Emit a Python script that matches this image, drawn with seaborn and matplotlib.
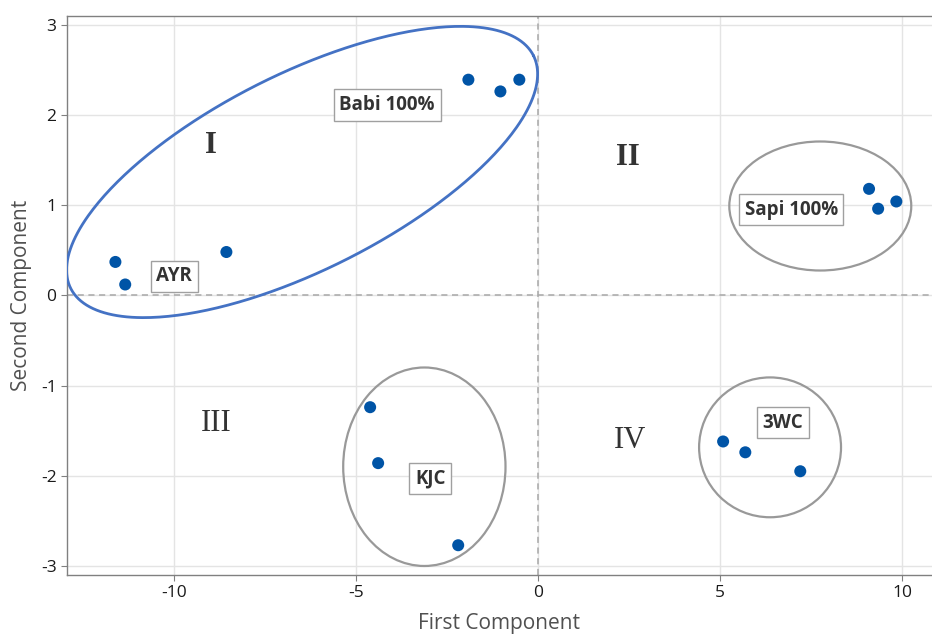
import numpy as np
import pandas as pd
import matplotlib
matplotlib.use("Agg")
import matplotlib.pyplot as plt
from matplotlib.patches import Ellipse
import seaborn as sns

# ---- data ----
groups = ["AYR"] * 3 + ["Babi 100%"] * 3 + ["Sapi 100%"] * 3 + ["KJC"] * 3 + ["3WC"] * 3
first_comp = [-11.62, -11.35, -8.57,
              -1.92, -1.04, -0.52,
              9.09, 9.34, 9.84,
              -4.62, -4.40, -2.20,
              5.08, 5.69, 7.20]
second_comp = [0.37, 0.12, 0.48,
               2.39, 2.26, 2.39,
               1.18, 0.96, 1.04,
               -1.24, -1.86, -2.77,
               -1.62, -1.74, -1.95]

label_text = ["AYR", "Babi 100%", "Sapi 100%", "KJC", "3WC"]
label_x = [-10.0, -4.15, 6.95, -2.97, 6.73]
label_y = [0.21, 2.11, 0.95, -2.03, -1.41]

quad_text = ["I", "II", "III", "IV"]
quad_x = [-9.0, 2.45, -8.85, 2.53]
quad_y = [1.66, 1.53, -1.42, -1.61]
quad_weight = ["bold", "bold", "normal", "normal"]

# gray ellipses: center x, center y, width, height (data units)
ell_cx = [7.75, -3.13, 6.37]
ell_cy = [0.99, -1.90, -1.685]
ell_w = [5.0, 4.46, 3.9]
ell_h = [1.43, 2.20, 1.55]

# blue rotated ellipse (centre in data units, axes in display pixels, angle in degrees)
blue_c = (-6.49, 1.367)
blue_a_px, blue_b_px, blue_ang = 259, 98, 26.7

xticks = [-10, -5, 0, 5, 10]
yticks = [-3, -2, -1, 0, 1, 2, 3]

df = pd.DataFrame({"First Component": first_comp,
                   "Second Component": second_comp,
                   "group": groups})

sns.set_style("white")
plt.rcParams["font.family"] = ["Open Sans", "DejaVu Sans"]
plt.rcParams["axes.unicode_minus"] = False

fig = plt.figure(figsize=(9.32, 6.35), dpi=100)
ax = fig.add_axes([67 / 932, 60 / 635, 1 - 67 / 932, (575 - 16) / 635])

ax.set_xlim(-12.95, 10.82)
ax.set_ylim(-3.10, 3.096)
ax.set_xticks(xticks)
ax.set_yticks(yticks)
ax.grid(True, color="#e4e4e4", lw=1.0, zorder=0)
ax.set_axisbelow(True)

ax.axhline(0, color="#a8a8a8", lw=1.1, ls=(0, (4, 3)), zorder=1)
ax.axvline(0, color="#a8a8a8", lw=1.1, ls=(0, (4, 3)), zorder=1)

sns.scatterplot(data=df, x="First Component", y="Second Component",
                color="#0054a6", s=75, edgecolor="none", ax=ax, zorder=5,
                legend=False)

for cx, cy, w, h in zip(ell_cx, ell_cy, ell_w, ell_h):
    ax.add_patch(Ellipse((cx, cy), w, h, fill=False, edgecolor="#999999",
                         lw=1.6, zorder=3))

# blue ellipse defined in pixel space, converted to data units
sx = ax.bbox.width / (ax.get_xlim()[1] - ax.get_xlim()[0])
sy = ax.bbox.height / (ax.get_ylim()[1] - ax.get_ylim()[0])
t = np.linspace(0, 2 * np.pi, 400)
th = np.deg2rad(blue_ang)
px = blue_a_px * np.cos(t) * np.cos(th) - blue_b_px * np.sin(t) * np.sin(th)
py = blue_a_px * np.cos(t) * np.sin(th) + blue_b_px * np.sin(t) * np.cos(th)
ax.plot(blue_c[0] + px / sx, blue_c[1] + py / sy, color="#4472c4", lw=2.0, zorder=3)

for txt, x, y in zip(label_text, label_x, label_y):
    ax.text(x, y, txt, ha="center", va="center", fontsize=13.5, fontweight="bold",
            color="#333333", zorder=6,
            bbox=dict(boxstyle="square,pad=0.3", facecolor="white",
                      edgecolor="#a0a0a0", lw=1.0))

for txt, x, y, w in zip(quad_text, quad_x, quad_y, quad_weight):
    ax.text(x, y, txt, ha="center", va="center", fontsize=22, fontweight=w,
            color="#333333", family=["Liberation Serif", "DejaVu Serif"], zorder=4)

for side in ["left", "bottom", "top"]:
    ax.spines[side].set_color("#808080")
    ax.spines[side].set_linewidth(1.0)
ax.spines["right"].set_visible(False)

ax.tick_params(axis="both", which="both", length=4, width=0.8, color="#808080",
               labelsize=12.5, labelcolor="#1a1a1a", direction="out")
ax.tick_params(axis="both", bottom=True, left=True)

ax.set_xlabel("First Component", fontsize=15, color="#505050", labelpad=8)
ax.set_ylabel("Second Component", fontsize=15, color="#505050", labelpad=6)

fig.savefig("out.png", dpi=100)
